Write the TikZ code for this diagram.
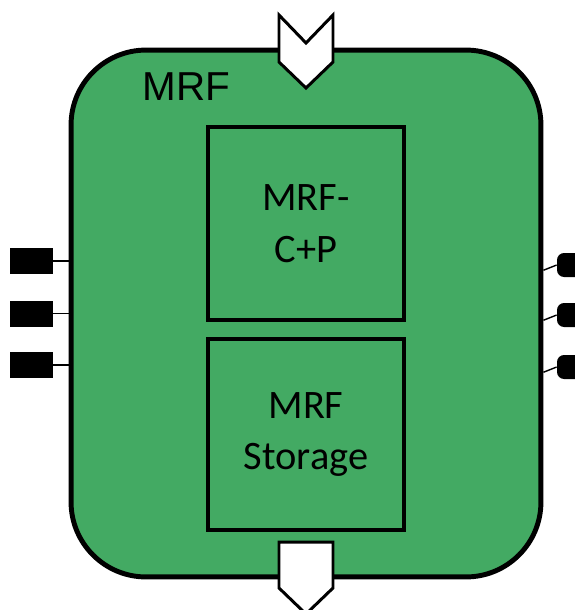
\documentclass[tikz,border=0pt]{standalone}
\usepackage{fontspec}
\setmainfont{Carlito}
\newfontfamily\arialfont{Liberation Sans}
\definecolor{mrfgreen}{RGB}{67,170,99}
\begin{document}
\begin{tikzpicture}[x=0.02cm, y=-0.02cm,
    block/.style={draw, line width=2.3pt, minimum width=3.92cm, align=center,
        font=\fontsize{23}{29.5}\selectfont},
    lpad/.style={fill=black, minimum width=0.86cm, minimum height=0.52cm, inner sep=0pt},
    rpad/.style={fill=black, rounded corners=4pt, minimum width=0.5cm, minimum height=0.48cm, inner sep=0pt},
    wire/.style={line width=0.8pt},
    port/.style={draw, fill=white, line width=1.7pt, line join=miter}]
    \useasboundingbox (0,0) rectangle (575,610);

    \node[draw, fill=mrfgreen, line width=2.8pt, rounded corners=1.5cm,
        minimum width=9.4cm, minimum height=10.54cm] (mrf) at (306,313.5) {};
    \node[font=\arialfont\fontsize{23}{28}\selectfont] (title) at (186.5,87) {MRF};

    \node[block, minimum height=3.86cm] (cp) at (306,223.5) {MRF-\\C+P};
    \node[block, minimum height=3.82cm] (store) at (306,434.5) {MRF\\Storage};

    % ports top and bottom
    \draw[port] (279,15) -- (306,43) -- (333,15) -- (333,62) -- (306,88) -- (279,62) -- cycle;
    \draw[port] (279,542) -- (333,542) -- (333,588) -- (306,614) -- (279,588) -- cycle;

    % side pins
    \foreach \i/\y in {1/261, 2/313.5, 3/365} {
        \node[lpad] (lp\i) at (31.5,\y) {};
        \draw[wire] (lp\i) -- (lp\i -| mrf.west);
    }
    \foreach \i/\y in {1/265, 2/315, 3/367} {
        \node[rpad] (rp\i) at (569.5,\y) {};
        \draw[wire] (rp\i.west) -- ([yshift=-3pt]rp\i.west -| mrf.east);
    }
\end{tikzpicture}
\end{document}
